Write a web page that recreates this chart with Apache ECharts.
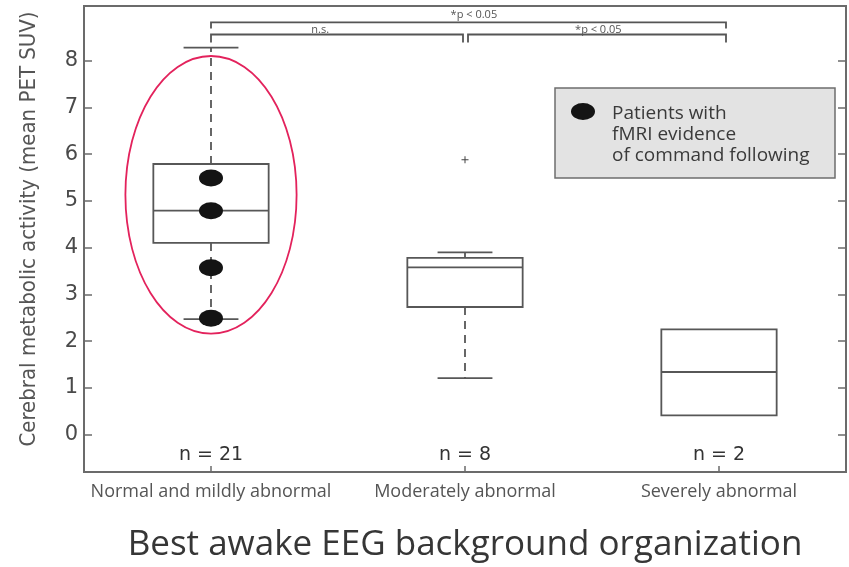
<!DOCTYPE html>
<html>
<head>
<meta charset="utf-8">
<script src="https://cdn.jsdelivr.net/npm/echarts@6/dist/echarts.min.js"></script>
<style>
  html, body { margin: 0; padding: 0; background: #fff; }
  #chart { width: 849px; height: 567px; }
</style>
</head>
<body>
<div id="chart"></div>
<script>
// EEG background groups and their PET SUV summaries
const categories = ['Normal and mildly abnormal', 'Moderately abnormal', 'Severely abnormal'];
const groupSizes = [21, 8, 2];
const whiskerLow = [2.47, 1.21, 0.41];
const quartile1 = [4.10, 2.73, 0.41];
const medians = [4.79, 3.58, 1.34];
const quartile3 = [5.79, 3.78, 2.25];
const whiskerHigh = [8.28, 3.90, 2.25];

// outliers: group index + value
const outlierGroups = [1];
const outlierValues = [5.88];

// patients with fMRI command following (all in the first group)
const fmriGroups = [0, 0, 0, 0];
const fmriValues = [5.49, 4.79, 3.57, 2.49];

const yTicks = [0, 1, 2, 3, 4, 5, 6, 7, 8];

// pairwise comparisons: [from group, to group]
const comparisonPairs = [[0, 2], [0, 1], [1, 2]];
const comparisonLabels = ['*p < 0.05', 'n.s.', '*p < 0.05'];

const fmriName = 'Patients with fMRI evidence of command following';
const axisGrey = '#6b6b6b';
const boxGrey = '#575757';

// bracket drawing settings (value units on the y axis)
const bracketTiers = [8.82, 8.56];
const bracketDrop = [0.13, 0.17];
const bracketLabelY = [8.98, 8.67];
const bracketLabelX = [1.035, 0.43, 1.525];
const bracketTierOf = [0, 1, 1];

// the highlighted first group
const highlightGroup = 0;
const highlightCenter = 5.13;
const highlightHalfSpan = 2.97;

const boxData = categories.map((c, i) => [i, whiskerLow[i], quartile1[i], medians[i], quartile3[i], whiskerHigh[i], groupSizes[i]]);

function renderBox(params, api) {
  const i = api.value(0);
  const lo = api.value(1), q1 = api.value(2), med = api.value(3), q3 = api.value(4), hi = api.value(5), n = api.value(6);
  const cx = api.coord([i, 0])[0];
  const band = api.size([1, 0], [i, 0])[0];
  const half = band * 0.227;
  const capHalf = band * 0.108;
  const y = v => api.coord([i, v])[1];
  const solid = { stroke: boxGrey, lineWidth: 1.8, fill: null };
  const dashed = { stroke: boxGrey, lineWidth: 1.8, lineDash: [8, 6], fill: null };
  const children = [
    { type: 'rect', shape: { x: cx - half, y: y(q3), width: half * 2, height: y(q1) - y(q3) }, style: { stroke: boxGrey, lineWidth: 1.8, fill: 'rgba(255,255,255,0)' } },
    { type: 'line', shape: { x1: cx - half, y1: y(med), x2: cx + half, y2: y(med) }, style: solid }
  ];
  if (hi > q3) {
    children.push({ type: 'line', shape: { x1: cx, y1: y(q3), x2: cx, y2: y(hi) }, style: dashed });
    children.push({ type: 'line', shape: { x1: cx - capHalf, y1: y(hi), x2: cx + capHalf, y2: y(hi) }, style: solid });
  }
  if (lo < q1) {
    children.push({ type: 'line', shape: { x1: cx, y1: y(q1), x2: cx, y2: y(lo) }, style: dashed });
    children.push({ type: 'line', shape: { x1: cx - capHalf, y1: y(lo), x2: cx + capHalf, y2: y(lo) }, style: solid });
  }
  children.push({
    type: 'text',
    style: { text: 'n = ' + n, x: cx, y: y(-0.43), align: 'center', verticalAlign: 'middle',
             font: '19px "DejaVu Sans"', fill: '#333' }
  });
  return { type: 'group', children };
}

function renderBracket(params, api) {
  const k = params.dataIndex;
  const from = api.value(0), to = api.value(1);
  const tier = bracketTierOf[k];
  const yTop = api.coord([0, bracketTiers[tier]])[1];
  const yEnd = api.coord([0, bracketTiers[tier] - bracketDrop[tier]])[1];
  let x1 = api.coord([from, 0])[0];
  let x2 = api.coord([to, 0])[0];
  // shared middle ends sit a little apart; the last group end reaches slightly right
  if (tier === 1 && from === 1) x1 += 3;
  if (tier === 1 && to === 1) x2 -= 2;
  if (to === 2) x2 += 7;
  const band = api.size([1, 0], [0, 0])[0];
  const lx = api.coord([0, 0])[0] + bracketLabelX[k] * band;
  const ly = api.coord([0, bracketLabelY[tier]])[1];
  return {
    type: 'group',
    children: [
      { type: 'polyline', shape: { points: [[x1, yEnd], [x1, yTop], [x2, yTop], [x2, yEnd]] },
        style: { stroke: '#555', lineWidth: 1.8, fill: null } },
      { type: 'text', style: { text: comparisonLabels[k], x: lx, y: ly, align: 'center', verticalAlign: 'middle',
        font: '11px "Open Sans"', fill: '#555' } }
    ]
  };
}

function renderHighlight(params, api) {
  const g = api.value(0), c = api.value(1);
  const pt = api.coord([g, c]);
  const band = api.size([1, 0], [g, c])[0];
  const ry = api.coord([g, c - highlightHalfSpan])[1] - pt[1];
  return {
    type: 'ellipse',
    shape: { cx: pt[0], cy: pt[1], rx: band * 0.337, ry: ry },
    style: { stroke: '#e3225c', lineWidth: 1.8, fill: null }
  };
}

const ellipseSymbol = 'path://M0,8.5A12,8.5,0,1,1,24,8.5A12,8.5,0,1,1,0,8.5Z';
// legend icon: dot aligned with the first text line
const legendIcon = 'path://M0,8.5A12,8.5,0,1,1,24,8.5A12,8.5,0,1,1,0,8.5ZM0,63L0.01,63L0,63Z';
const plusSymbol = 'path://M3,0H4V3H7V4H4V7H3V4H0V3H3Z';

const chart = echarts.init(document.getElementById('chart'), null, { renderer: 'canvas' });

chart.setOption({
  animation: false,
  backgroundColor: '#ffffff',
  grid: { left: 84, right: 3, top: 6, bottom: 95, containLabel: false, outerBoundsMode: 'none',
          show: true, borderColor: axisGrey, borderWidth: 2, backgroundColor: 'transparent' },
  legend: {
    data: [{ name: fmriName, icon: legendIcon }],
    left: 555, top: 88,
    orient: 'vertical',
    selectedMode: false,
    padding: [15, 23, 12, 16],
    backgroundColor: '#e3e3e3',
    borderColor: '#6e6e6e',
    borderWidth: 1.5,
    itemWidth: 24,
    itemHeight: 63,
    formatter: () => 'Patients with\nfMRI evidence\nof command following',
    textStyle: { fontFamily: 'Open Sans', fontSize: 19, color: '#3a3a3a', lineHeight: 21, width: 200, padding: [0, 0, 0, 12] }
  },
  xAxis: {
    type: 'category',
    data: categories,
    boundaryGap: true,
    axisLine: { show: false, onZero: false },
    axisTick: { show: true, inside: true, alignWithLabel: true, length: 6, lineStyle: { color: axisGrey, width: 1.5 } },
    axisLabel: { fontFamily: 'Open Sans', fontSize: 18, color: '#555', margin: 11, interval: 0, hideOverlap: false },
    splitLine: { show: false },
    name: 'Best awake EEG background organization',
    nameLocation: 'middle',
    nameGap: 56,
    nameTextStyle: { fontFamily: 'Open Sans', fontSize: 35, color: '#363636' }
  },
  yAxis: [
    {
      type: 'value', min: -0.8, max: 9.17,
      axisLine: { show: false },
      axisTick: { show: true, inside: true, length: 8, customValues: yTicks, lineStyle: { color: axisGrey, width: 1.5 } },
      axisLabel: { customValues: yTicks, fontFamily: 'DejaVu Sans', fontSize: 21, color: '#4a4a4a', margin: 6 },
      splitLine: { show: false },
      name: 'Cerebral metabolic activity (mean PET SUV)',
      nameLocation: 'middle',
      nameGap: 44,
      nameTextStyle: { fontFamily: '"DejaVu Sans Condensed", "Roboto Condensed", Roboto, sans-serif', fontSize: 22, color: '#555', padding: [0, 0, 0, 20] }
    },
    {
      type: 'value', min: -0.8, max: 9.17, position: 'right',
      axisLine: { show: false },
      axisTick: { show: true, inside: true, length: 8, customValues: yTicks, lineStyle: { color: axisGrey, width: 1.5 } },
      axisLabel: { show: false },
      splitLine: { show: false }
    }
  ],
  series: [
    {
      name: 'boxes', type: 'custom', renderItem: renderBox, data: boxData, z: 2,
      encode: { x: 0, y: [1, 2, 3, 4, 5] }, silent: true
    },
    {
      name: 'comparisons', type: 'custom', renderItem: renderBracket,
      data: comparisonPairs.map(p => [p[0], p[1]]), encode: { x: [0, 1], y: [] }, z: 2, silent: true, clip: false
    },
    {
      name: 'highlight', type: 'custom', renderItem: renderHighlight,
      data: [[highlightGroup, highlightCenter]], z: 4, silent: true
    },
    {
      name: 'outliers', type: 'scatter', symbol: plusSymbol, symbolSize: 7,
      data: outlierGroups.map((g, k) => [g, outlierValues[k]]),
      itemStyle: { color: '#444', opacity: 1 }, z: 3
    },
    {
      name: fmriName, type: 'scatter', symbol: ellipseSymbol, symbolSize: [24, 17],
      data: fmriGroups.map((g, k) => [g, fmriValues[k]]),
      itemStyle: { color: '#141414', borderWidth: 0, opacity: 1 }, z: 5
    }
  ]
});
</script>
</body>
</html>
